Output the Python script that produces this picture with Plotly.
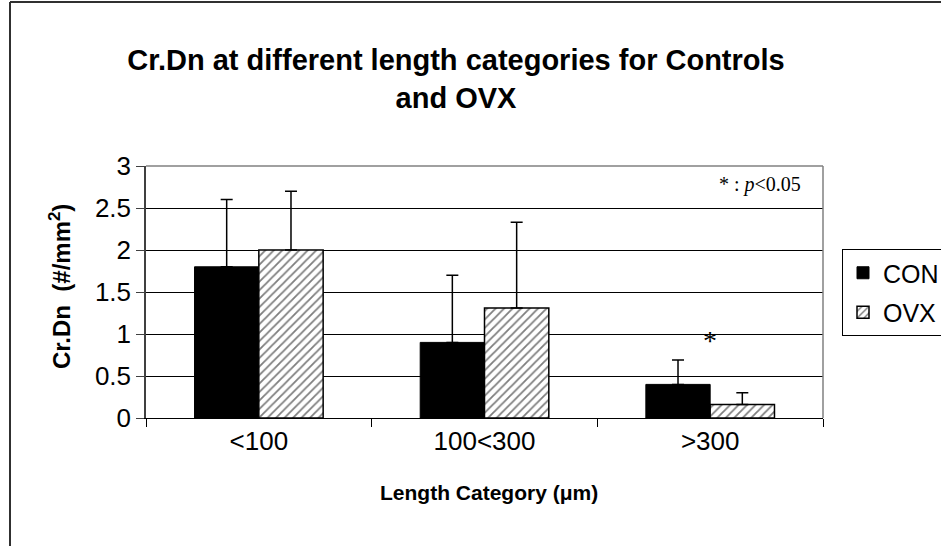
import plotly.graph_objects as go

categories = ["<100", "100<300", ">300"]
con_values = [1.8, 0.9, 0.4]
con_errors = [0.8, 0.8, 0.29]
ovx_values = [2.0, 1.31, 0.16]
ovx_errors = [0.7, 1.02, 0.14]
y_ticks = [0, 0.5, 1, 1.5, 2, 2.5, 3]
y_tick_labels = ["0", "0.5", "1", "1.5", "2", "2.5", "3"]

W, H = 941, 546
# plot area in window pixels
PX0, PX1, PY0, PY1 = 146, 823, 166, 418
L, R, T, B = PX0, W - PX1, PY0, H - PY1
pw, ph = W - L - R, H - T - B

def px_x(px):
    return (px - L) / pw

def px_y(py):
    return (H - B - py) / ph

fig = go.Figure()
fig.add_trace(go.Bar(
    x=categories, y=con_values, name="CON", legendgroup="con",
    marker=dict(color="black", line=dict(color="black", width=1)),
    error_y=dict(type="data", symmetric=False, array=con_errors,
                 arrayminus=[0] * len(con_errors),
                 color="black", thickness=1.5, width=6),
))
fig.add_trace(go.Bar(
    x=categories, y=ovx_values, name="OVX", legendgroup="ovx",
    marker=dict(color="white", line=dict(color="black", width=1.5),
                pattern=dict(shape="/", fgcolor="black", bgcolor="white",
                             size=6, solidity=0.3)),
    error_y=dict(type="data", symmetric=False, array=ovx_errors,
                 arrayminus=[0] * len(ovx_errors),
                 color="black", thickness=1.5, width=6),
))

fig.update_layout(
    width=W, height=H,
    margin=dict(l=L, r=R, t=T, b=B, pad=0, autoexpand=False),
    paper_bgcolor="white", plot_bgcolor="white",
    barmode="group", bargap=0.43, bargroupgap=0,
    font=dict(family="Liberation Sans, Arial", color="black", size=26),
    title=dict(
        text="<b>Cr.Dn at different length categories for Controls<br>and OVX</b>",
        font=dict(size=29, family="Liberation Sans, Arial", color="black"),
        x=456 / W, xref="container", xanchor="center",
        y=1 - 70 / H, yref="container", yanchor="middle",
    ),
    showlegend=True,
    legend=dict(
        x=px_x(842), y=px_y(249), xanchor="left", yanchor="top",
        bordercolor="black", borderwidth=1, bgcolor="white",
        font=dict(size=25, family="Liberation Sans, Arial"),
        traceorder="grouped", tracegroupgap=4, itemwidth=30,
    ),
    xaxis=dict(
        showline=True, linecolor="black", linewidth=1,
        ticks="outside", tickson="boundaries", ticklen=8, tickcolor="black",
        tickfont=dict(size=26),
        mirror=False,
    ),
    yaxis=dict(
        range=[0, 3], tickvals=y_ticks, ticktext=y_tick_labels,
        showline=True, linecolor="#404040", linewidth=1.5,
        ticks="outside", ticklen=8, tickcolor="#404040",
        showgrid=True, gridcolor="black", gridwidth=1,
        tickfont=dict(size=26),
        zeroline=False,
    ),
    shapes=[
        dict(type="line", xref="paper", yref="paper", x0=0, x1=1, y0=1, y1=1,
             line=dict(color="#808080", width=1.5)),
        dict(type="line", xref="paper", yref="paper", x0=1, x1=1, y0=0, y1=1,
             line=dict(color="#808080", width=1.5)),
        dict(type="line", xref="paper", yref="paper", x0=px_x(10), x1=px_x(980),
             y0=px_y(2), y1=px_y(2), line=dict(color="#303030", width=2)),
        dict(type="line", xref="paper", yref="paper", x0=px_x(10), x1=px_x(10),
             y0=px_y(2), y1=px_y(600), line=dict(color="#303030", width=2)),
    ],
    annotations=[
        dict(text="* : <i>p</i><0.05", xref="paper", yref="paper",
             x=px_x(803), y=px_y(184), xanchor="right", yanchor="middle",
             showarrow=False, font=dict(family="Liberation Serif, Times New Roman", size=20)),
        dict(text="*", xref="x", yref="y", x=categories[2], y=0.92,
             xanchor="center", yanchor="middle", showarrow=False,
             font=dict(family="Liberation Serif, Times New Roman", size=28)),
        dict(text="<b>Cr.Dn  (#/mm<sup>2</sup>)</b>", xref="paper", yref="paper",
             x=px_x(60), y=px_y(287), xanchor="center", yanchor="middle",
             textangle=-90, showarrow=False,
             font=dict(family="Liberation Sans, Arial", size=24)),
        dict(text="<b>Length Category (μm)</b>", xref="paper", yref="paper",
             x=px_x(489), y=px_y(492), xanchor="center", yanchor="middle",
             showarrow=False,
             font=dict(family="Liberation Sans, Arial", size=21)),
    ],
)

fig.write_html(
    "out.html",
    config={"displayModeBar": False},
    post_script="document.body.style.margin='0';document.body.style.padding='0';",
)
